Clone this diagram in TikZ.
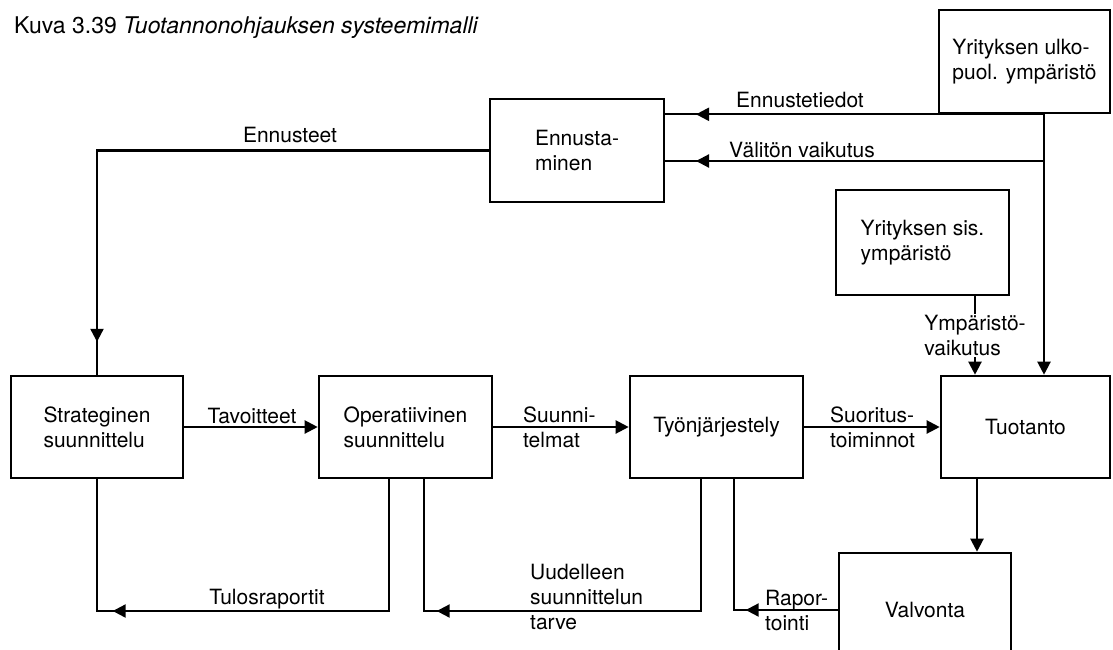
\documentclass[tikz,border=0pt]{standalone}
\usepackage{fontspec}
\setmainfont{TeX Gyre Heros}
\usetikzlibrary{arrows.meta,decorations.markings}

\tikzset{
  blk/.style={draw, line width=2.6pt, minimum width=173pt, minimum height=103pt,
    align=left, inner sep=2pt, font=\fontsize{21pt}{25pt}\selectfont},
  lbl/.style={inner sep=0pt, align=left, font=\fontsize{21pt}{25pt}\selectfont},
  fwd/.style={line width=2.2pt, -{Triangle[length=13pt,width=13pt]}},
  fbline/.style={line width=2.2pt, postaction={decorate},
    decoration={markings, mark=at position #1 with {\arrow{Triangle[length=13pt,width=13pt]}}}},
}

\begin{document}
\begin{tikzpicture}[x=1pt, y=-1pt]
\useasboundingbox (0,0) rectangle (1113,649);
\clip (0,0) rectangle (1113,649);
\fill[white] (0,0) rectangle (1113,649);

% caption
\node[anchor=base west, inner sep=0pt, font=\fontsize{23pt}{27pt}\selectfont] (title) at (14,33)
  {Kuva 3.39 \textit{Tuotannonohjauksen systeemimalli}};

% blocks
\node[blk, minimum width=171pt] (ulk) at (1024.5,61.5) {Yrityksen ulko-\\puol. ympäristö};
\node[blk, minimum width=174pt] (enn) at (577,150.5) {Ennusta-\\minen};
\node[blk, minimum height=105pt] (sis) at (922.5,242.5) {Yrityksen sis.\\ympäristö};
\node[blk, minimum width=172pt, minimum height=102pt] (str) at (97,427) {Strateginen\\suunnittelu};
\node[blk, minimum height=102pt] (ope) at (405.5,427) {Operatiivinen\\suunnittelu};
\node[blk, minimum height=102pt] (tyo) at (716.5,427) {Työnjärjestely};
\node[blk, minimum width=169pt, minimum height=102pt] (tuo) at (1025.5,427) {Tuotanto};
\node[blk, minimum width=172pt, minimum height=114pt] (val) at (925,610) {Valvonta};

% guide coordinates for the vertical runs
\coordinate (vx) at (1044,0);
\coordinate (vb) at (1044,161);
\coordinate (yx) at (975,0);
\coordinate (tvx) at (977,0);
\coordinate (fbA) at (389,611);
\coordinate (fbB) at (701,611);
\coordinate (fbC) at (424,611);
\coordinate (fbD) at (734,0);

% outside environment
\draw[fwd] (ulk.south -| vx) -- (tuo.north -| vx);
\draw[fbline=348pt] (ulk.south -| vx) -- (enn.east |- ulk.south);
\draw[fbline=348pt] (vb) -- (enn.east |- vb);
\draw[fbline=583pt] (enn.west) -- (str.north |- enn.west) -- (str.north);

% main chain
\draw[fwd] (str.east) -- (ope.west);
\draw[fwd] (ope.east) -- (tyo.west);
\draw[fwd] (tyo.east) -- (tuo.west);
\draw[fwd] (tuo.south -| tvx) -- (val.north -| tvx);
\draw[fwd] (sis.south -| yx) -- node[lbl, fill=white, inner sep=1pt] (lymp) {Ympäristö-\\vaikutus} (yx |- tuo.north);

% feedback loops
\draw[fbline=408pt] (ope.south -| fbA) -- (fbA) -- (str.south |- fbA) -- (str.south);
\draw[fbline=396pt] (tyo.south -| fbB) -- (fbB) -- (fbC) -- (ope.south -| fbC);
\draw[fbline=92pt] (val.west) -- (val.west -| fbD) -- (tyo.south -| fbD);

% connector labels
\node[lbl, anchor=base] (lenn) at (290,142) {Ennusteet};
\node[lbl, anchor=base] (lentd) at (800,107) {Ennustetiedot};
\node[lbl, anchor=base] (lval) at (802,157) {Välitön vaikutus};
\node[lbl, anchor=base] (ltav) at (252,423) {Tavoitteet};
\node[lbl, anchor=west] (lsuu) at (523,427) {Suunni-\\telmat};
\node[lbl, anchor=west] (lsuo) at (830,427) {Suoritus-\\toiminnot};
\node[lbl, anchor=base] (ltul) at (267,604) {Tulosraportit};
\node[lbl, anchor=west] (luud) at (530,597) {Uudelleen\\suunnittelun\\tarve};
\node[lbl, anchor=west] (lrap) at (765,610) {Rapor-\\tointi};
\end{tikzpicture}
\end{document}
